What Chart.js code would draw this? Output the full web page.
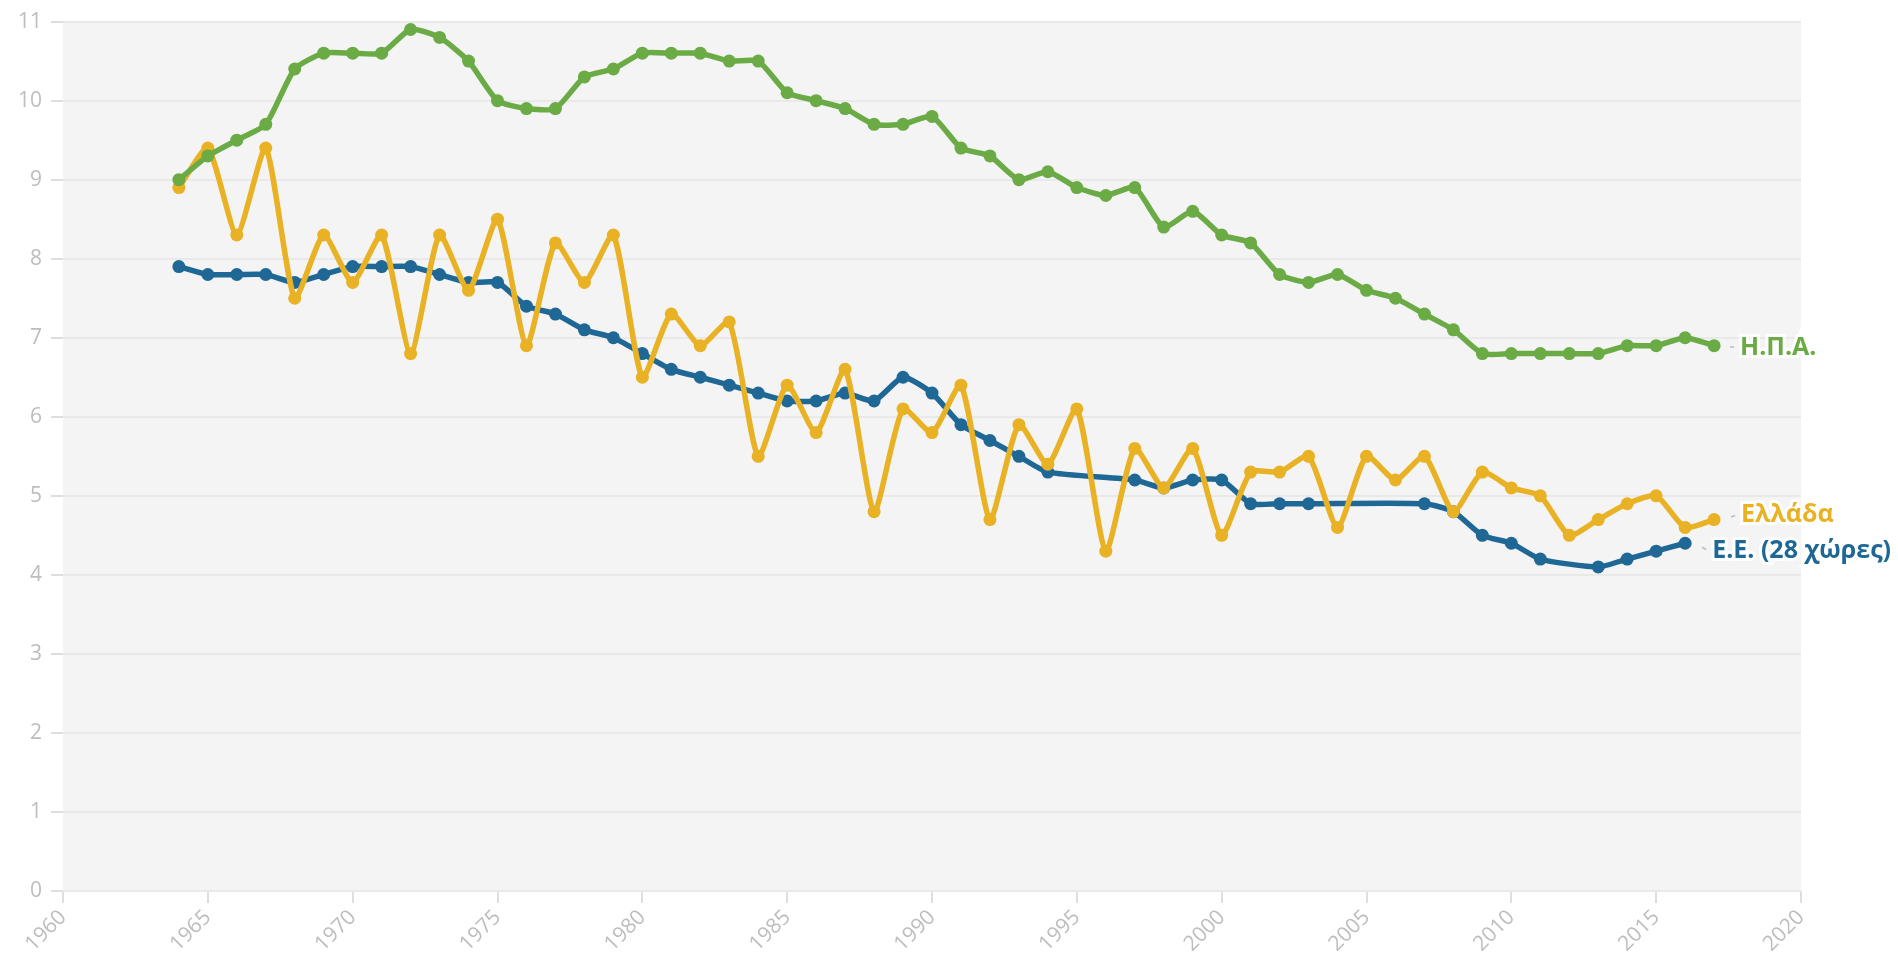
<!DOCTYPE html>
<html>
<head>
<meta charset="utf-8">
<script src="https://cdn.jsdelivr.net/npm/chart.js@4.4.0/dist/chart.umd.min.js"></script>
<style>
html, body { margin: 0; padding: 0; background: #fff; }
canvas { display: block; }
</style>
</head>
<body>
<canvas id="myChart" width="1898" height="958"></canvas>
<script>
// years 1964-2017
const years = [];
for (let y = 1964; y <= 2017; y++) years.push(y);

const usa = [
    9.0, 9.3, 9.5, 9.7, 10.4, 10.6, 10.6, 10.6, 10.9, 10.8,
    10.5, 10.0, 9.9, 9.9, 10.3, 10.4, 10.6, 10.6, 10.6, 10.5,
    10.5, 10.1, 10.0, 9.9, 9.7, 9.7, 9.8, 9.4, 9.3, 9.0,
    9.1, 8.9, 8.8, 8.9, 8.4, 8.6, 8.3, 8.2, 7.8, 7.7,
    7.8, 7.6, 7.5, 7.3, 7.1, 6.8, 6.8, 6.8, 6.8, 6.8,
    6.9, 6.9, 7.0, 6.9
];
const greece = [
    8.9, 9.4, 8.3, 9.4, 7.5, 8.3, 7.7, 8.3, 6.8, 8.3,
    7.6, 8.5, 6.9, 8.2, 7.7, 8.3, 6.5, 7.3, 6.9, 7.2,
    5.5, 6.4, 5.8, 6.6, 4.8, 6.1, 5.8, 6.4, 4.7, 5.9,
    5.4, 6.1, 4.3, 5.6, 5.1, 5.6, 4.5, 5.3, 5.3, 5.5,
    4.6, 5.5, 5.2, 5.5, 4.8, 5.3, 5.1, 5.0, 4.5, 4.7,
    4.9, 5.0, 4.6, 4.7
];
// EU: no values for some years (line spans the gaps)
const eu28 = [
    7.9, 7.8, 7.8, 7.8, 7.7, 7.8, 7.9, 7.9, 7.9, 7.8,
    7.7, 7.7, 7.4, 7.3, 7.1, 7.0, 6.8, 6.6, 6.5, 6.4,
    6.3, 6.2, 6.2, 6.3, 6.2, 6.5, 6.3, 5.9, 5.7, 5.5,
    5.3, null, null, 5.2, 5.1, 5.2, 5.2, 4.9, 4.9, 4.9,
    null, null, null, 4.9, 4.8, 4.5, 4.4, 4.2, null, 4.1,
    4.2, 4.3, 4.4, null
];

const seriesNames = ['Η.Π.Α.', 'Ελλάδα', 'Ε.Ε. (28 χώρες)'];
const seriesColors = ['#6aab46', '#e9b124', '#1f6896'];
const seriesValues = [usa, greece, eu28];

function toPoints(values) {
    return years.map((yr, i) => ({ x: yr, y: values[i] }));
}

const datasets = seriesValues.map((vals, i) => ({
    label: seriesNames[i],
    data: toPoints(vals),
    borderColor: seriesColors[i],
    backgroundColor: seriesColors[i],
    borderWidth: 5.5,
    borderJoinStyle: 'round',
    pointRadius: 6.5,
    pointBorderWidth: 0,
    tension: 0.2,
    spanGaps: true
}));

// grey plot area behind the grid
const plotBackground = {
    id: 'plotBackground',
    beforeDraw(chart) {
        const { ctx, chartArea: a } = chart;
        ctx.save();
        ctx.fillStyle = '#f4f4f4';
        ctx.fillRect(a.left, a.top, a.right - a.left, a.bottom - a.top);
        ctx.restore();
    }
};

// labels at the end of each line
const labelOffsets = [
    { dx: 26, dy: 2 },
    { dx: 27, dy: -5 },
    { dx: 27, dy: 8 }
];

const endLabels = {
    id: 'endLabels',
    afterDatasetsDraw(chart) {
        const ctx = chart.ctx;
        ctx.save();
        chart.data.datasets.forEach((ds, i) => {
            const meta = chart.getDatasetMeta(i);
            let last = ds.data.length - 1;
            while (last >= 0 && ds.data[last].y === null) last--;
            const pt = meta.data[last];
            const off = labelOffsets[i];
            // small connector
            ctx.strokeStyle = 'rgba(150,150,150,0.6)';
            ctx.lineWidth = 1.5;
            ctx.beginPath();
            ctx.moveTo(pt.x + off.dx - 10, pt.y + off.dy * 0.5);
            ctx.lineTo(pt.x + off.dx - 6, pt.y + off.dy * 0.8);
            ctx.stroke();

            ctx.font = 'bold 25px "Open Sans"';
            ctx.textBaseline = 'middle';
            ctx.textAlign = 'left';
            ctx.lineWidth = 6;
            ctx.strokeStyle = 'rgba(255,255,255,0.85)';
            ctx.strokeText(ds.label, pt.x + off.dx, pt.y + off.dy);
            ctx.fillStyle = seriesColors[i];
            ctx.fillText(ds.label, pt.x + off.dx, pt.y + off.dy);
        });
        ctx.restore();
    }
};

const ctx = document.getElementById('myChart').getContext('2d');
const myChart = new Chart(ctx, {
    type: 'line',
    data: { datasets: datasets },
    options: {
        responsive: false,
        animation: false,
        layout: {
            padding: { top: 20, right: 97, left: 0, bottom: 0 }
        },
        plugins: {
            legend: { display: false },
            tooltip: { enabled: false }
        },
        scales: {
            x: {
                type: 'linear',
                min: 1960,
                max: 2020,
                border: { display: false },
                grid: {
                    drawOnChartArea: false,
                    drawTicks: true,
                    tickLength: 12,
                    tickColor: '#dedede',
                    lineWidth: 2
                },
                ticks: {
                    stepSize: 5,
                    minRotation: 45,
                    maxRotation: 45,
                    padding: 2,
                    color: '#bdbdbd',
                    font: { family: '"Open Sans"', size: 21 },
                    callback: v => String(v)
                },
                afterFit(scale) { scale.height = 67; }
            },
            y: {
                min: 0,
                max: 11,
                border: { display: false },
                grid: {
                    color: '#e9e9e9',
                    lineWidth: 2,
                    tickLength: 12,
                    tickColor: '#dedede'
                },
                ticks: {
                    stepSize: 1,
                    padding: 9,
                    color: '#bdbdbd',
                    font: { family: '"Open Sans"', size: 21 }
                },
                afterFit(scale) { scale.width = 63; }
            }
        }
    },
    plugins: [plotBackground, endLabels]
});
</script>
</body>
</html>
